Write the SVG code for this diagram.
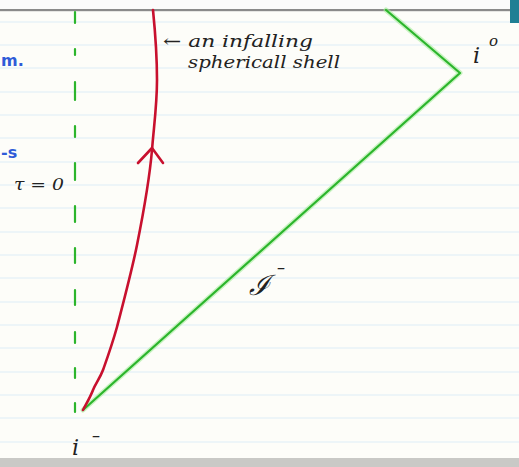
<svg xmlns="http://www.w3.org/2000/svg" width="519" height="467" viewBox="0 0 519 467">
<style>
.rule{stroke:#deedf7;stroke-width:1.2}
.hand{font-family:"DejaVu Serif","Liberation Serif",serif;font-style:italic;fill:#222}
.blue{font-family:"DejaVu Sans","Liberation Sans",sans-serif;font-weight:bold;fill:#2f5bd8}
.glow{fill:none;stroke:#a6ec9c;stroke-width:5;stroke-linecap:round;stroke-linejoin:round;opacity:0.6}
.green{fill:none;stroke:#2cb52c;stroke-width:2.2;stroke-linecap:round;stroke-linejoin:round}
.red{fill:none;stroke:#c8102e;stroke-width:2.6;stroke-linecap:round;stroke-linejoin:round}
</style>
<rect x="0" y="0" width="519" height="467" fill="#fdfdf9"/>
<rect x="0" y="0" width="519" height="10" fill="#fbfbfb"/>
<g id="ruled-lines">
<line class="rule" x1="0" y1="22" x2="519" y2="22"/>
<line class="rule" x1="0" y1="45" x2="519" y2="45"/>
<line class="rule" x1="0" y1="68" x2="519" y2="68"/>
<line class="rule" x1="0" y1="92" x2="519" y2="92"/>
<line class="rule" x1="0" y1="115" x2="519" y2="115"/>
<line class="rule" x1="0" y1="138" x2="519" y2="138"/>
<line class="rule" x1="0" y1="162" x2="519" y2="162"/>
<line class="rule" x1="0" y1="185" x2="519" y2="185"/>
<line class="rule" x1="0" y1="208" x2="519" y2="208"/>
<line class="rule" x1="0" y1="232" x2="519" y2="232"/>
<line class="rule" x1="0" y1="255" x2="519" y2="255"/>
<line class="rule" x1="0" y1="278" x2="519" y2="278"/>
<line class="rule" x1="0" y1="302" x2="519" y2="302"/>
<line class="rule" x1="0" y1="325" x2="519" y2="325"/>
<line class="rule" x1="0" y1="348" x2="519" y2="348"/>
<line class="rule" x1="0" y1="372" x2="519" y2="372"/>
<line class="rule" x1="0" y1="395" x2="519" y2="395"/>
<line class="rule" x1="0" y1="418" x2="519" y2="418"/>
<line class="rule" x1="0" y1="442" x2="519" y2="442"/>
</g>
<rect x="0" y="9" width="519" height="2.2" fill="#8a8a8a"/>
<rect x="0" y="458" width="519" height="9" fill="#c9c9c6"/>
<rect x="510" y="0" width="9" height="23" fill="#1f7f94"/>
<g id="r-zero-axis">
<path class="green" stroke-width="2.6" stroke-linecap="butt" d="M75 12V23M75 49V55M75 82V100M75 126V137M75 163V180M75 206V222M75 248V263M75 290V305M75 332V343M75 368V378M75 403V412"/>
</g>
<g id="connectors">
<g id="past-null-infinity">
<path class="glow" d="M83 410L460 73L386 10"/>
<path class="green" d="M83 410L460 73L386 10"/>
</g>
<g id="infalling-shell">
<path class="red" d="M153 10C155 30 157 55 157 80C157 105 154 125 152 150C149 185 143 215 137 245C132 270 124 300 117 327C112 345 108 356 103 370C100 378 96 383 93 390C90 398 86 404 83 410"/>
<path class="red" d="M138 163L152 148L163 163"/>
</g>
</g>
<g id="labels">
<text class="hand" x="163" y="47" font-size="17" textLength="150" lengthAdjust="spacingAndGlyphs">← an infalling</text>
<text class="hand" x="188" y="68" font-size="17" textLength="152" lengthAdjust="spacingAndGlyphs">sphericall shell</text>
<text class="hand" x="473" y="63" font-size="22">i</text>
<text class="hand" x="489" y="46" font-size="15">o</text>
<text class="hand" x="14" y="190" font-size="17" textLength="50" lengthAdjust="spacingAndGlyphs">τ = 0</text>
<text class="hand" x="249" y="295" font-size="28">ℐ</text>
<text class="hand" x="277" y="273" font-size="16">–</text>
<text class="hand" x="72" y="455" font-size="22">i</text>
<text class="hand" x="92" y="441" font-size="16">–</text>
<text class="blue" x="1" y="66" font-size="16">m.</text>
<text class="blue" x="1" y="158" font-size="16">-s</text>
</g>
</svg>
